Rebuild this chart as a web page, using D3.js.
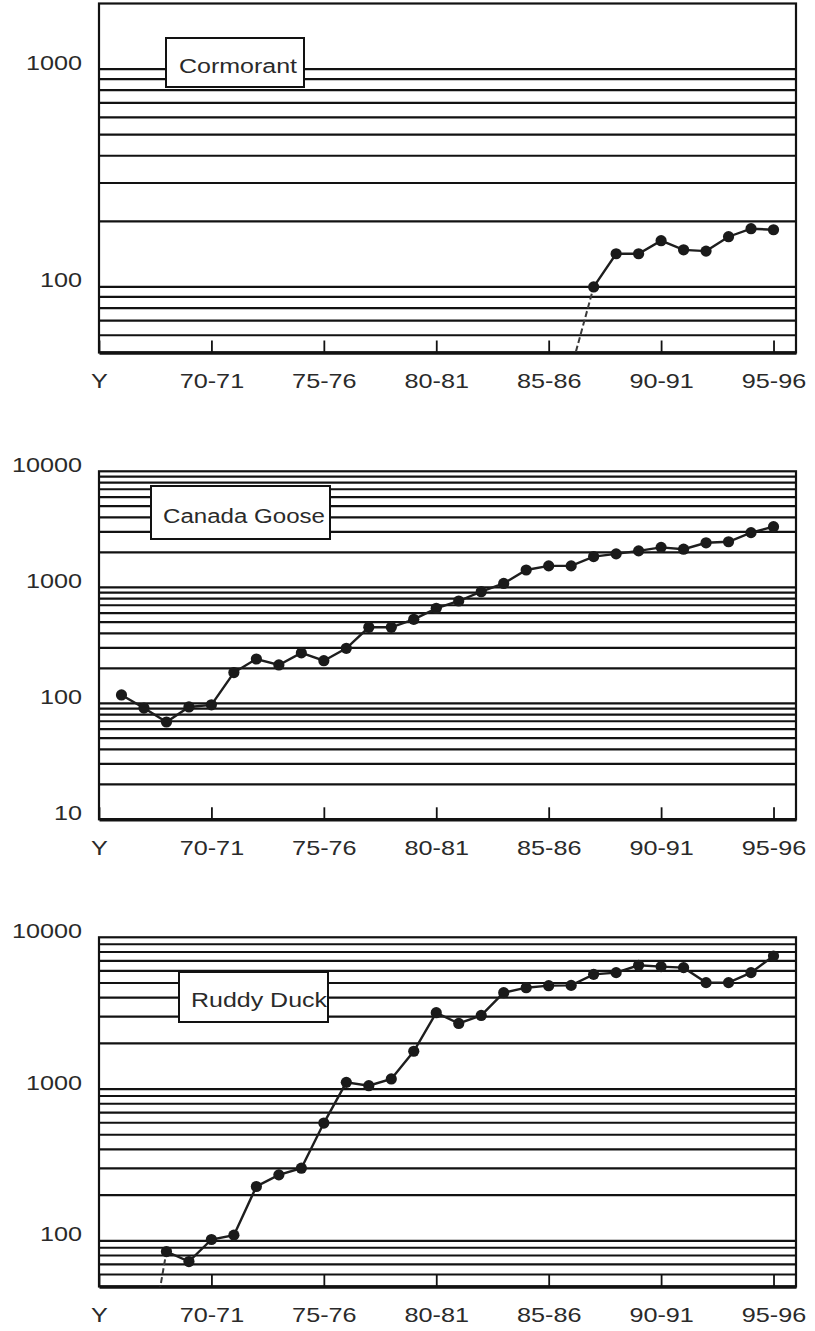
<!DOCTYPE html>
<html>
<head>
<meta charset="utf-8">
<script src="https://cdn.jsdelivr.net/npm/d3@7"></script>
<style>
  body { margin: 0; background: #fff; }
  svg text { font-family: "Liberation Sans", Arial, Helvetica, sans-serif; fill: #2a2a2a; }
</style>
</head>
<body>
<div id="chart"></div>
<script>
// Season ticks along the bottom (first season year of each label)
const seasonTicks = [1965, 1970, 1975, 1980, 1985, 1990, 1995];
const seasonLabels = ["Y", "70-71", "75-76", "80-81", "85-86", "90-91", "95-96"];

// Cormorant (first value is below the chart, joined with a dashed line)
const cormorantYears = [1986, 1987, 1988, 1989, 1990, 1991, 1992, 1993, 1994, 1995];
const cormorantCounts = [42, 100, 142, 142, 163, 148, 146, 170, 185, 183];

// Canada Goose
const gooseYears = [1966, 1967, 1968, 1969, 1970, 1971, 1972, 1973, 1974, 1975,
  1976, 1977, 1978, 1979, 1980, 1981, 1982, 1983, 1984, 1985,
  1986, 1987, 1988, 1989, 1990, 1991, 1992, 1993, 1994, 1995];
const gooseCounts = [118, 91, 69, 93, 97, 184, 241, 214, 272, 233,
  298, 452, 452, 530, 659, 762, 916, 1080, 1410, 1530,
  1530, 1840, 1940, 2060, 2210, 2130, 2420, 2470, 2960, 3330];

// Ruddy Duck (first value is below the chart, joined with a dashed line)
const duckYears = [1967, 1968, 1969, 1970, 1971, 1972, 1973, 1974, 1975,
  1976, 1977, 1978, 1979, 1980, 1981, 1982, 1983, 1984, 1985,
  1986, 1987, 1988, 1989, 1990, 1991, 1992, 1993, 1994, 1995];
const duckCounts = [12, 85, 73, 102, 109, 228, 272, 301, 597,
  1107, 1052, 1166, 1775, 3185, 2705, 3055, 4315, 4655, 4800,
  4820, 5700, 5850, 6540, 6410, 6310, 5030, 5030, 5850, 7530];

// Labelled values on the log axes
const cormorantAxisLabels = [100, 1000];
const gooseAxisLabels = [10, 100, 1000, 10000];
const duckAxisLabels = [100, 1000, 10000];

const config = {
  width: 815,
  height: 1331,
  left: 99,
  right: 796,
  xDomain: [1965, 1996],
  stretch: 1.2, // the scanned lettering is wider than Arial
};

const panels = [
  {
    name: "Cormorant", years: cormorantYears, counts: cormorantCounts,
    axisLabels: cormorantAxisLabels, domain: [50, 2000], top: 3.5, bottom: 352.5,
    dashedFirst: true, box: { x: 166, y: 38, w: 138, h: 49, tx: 179, ty: 73, tw: 118 },
  },
  {
    name: "Canada Goose", years: gooseYears, counts: gooseCounts,
    axisLabels: gooseAxisLabels, domain: [10, 10000], top: 471.3, bottom: 819.3,
    dashedFirst: false, box: { x: 151, y: 486, w: 179, h: 53, tx: 163, ty: 523, tw: 162 },
  },
  {
    name: "Ruddy Duck", years: duckYears, counts: duckCounts,
    axisLabels: duckAxisLabels, domain: [50, 10000], top: 937.3, bottom: 1286.5,
    dashedFirst: true, box: { x: 179, y: 972, w: 149, h: 50, tx: 191, ty: 1007, tw: 136 },
  },
];

const svg = d3.select("#chart")
  .append("svg")
  .attr("width", config.width)
  .attr("height", config.height);

const xScale = d3.scaleLinear()
  .domain(config.xDomain)
  .range([config.left, config.right]);

const ink = "#121212";

panels.forEach((p, idx) => {
  const g = svg.append("g").attr("class", "panel");

  const yScale = d3.scaleLog()
    .domain(p.domain)
    .range([p.bottom, p.top]);

  const clipId = `clip${idx}`;
  svg.append("clipPath").attr("id", clipId)
    .append("rect")
    .attr("x", config.left)
    .attr("y", p.top)
    .attr("width", config.right - config.left)
    .attr("height", p.bottom - p.top);

  // Horizontal log gridlines
  const gridValues = yScale.ticks().filter(v => v > p.domain[0] && v < p.domain[1]);
  g.append("g")
    .selectAll("line")
    .data(gridValues)
    .join("line")
    .attr("x1", config.left)
    .attr("x2", config.right)
    .attr("y1", d => yScale(d))
    .attr("y2", d => yScale(d))
    .attr("stroke", ink)
    .attr("stroke-width", 2.2);

  // Frame
  g.append("rect")
    .attr("x", config.left)
    .attr("y", p.top)
    .attr("width", config.right - config.left)
    .attr("height", p.bottom - p.top)
    .attr("fill", "none")
    .attr("stroke", ink)
    .attr("stroke-width", 2.2);

  // Bottom axis with short inward ticks
  const xAxis = g.append("g")
    .attr("transform", `translate(0, ${p.bottom})`)
    .call(
      d3.axisBottom(xScale)
        .tickValues(seasonTicks)
        .tickFormat((d, i) => seasonLabels[i])
        .tickSizeInner(-12)
        .tickSizeOuter(0)
        .tickPadding(21)
    );
  xAxis.select(".domain").attr("stroke", ink).attr("stroke-width", 3.5);
  xAxis.selectAll(".tick line").attr("stroke", ink).attr("stroke-width", 1.8);
  xAxis.selectAll(".tick text")
    .attr("class", "stretch")
    .attr("font-size", 21)
    .attr("fill", "#2a2a2a");

  // Left value labels
  const yAxis = g.append("g")
    .attr("transform", `translate(${config.left}, 0)`)
    .call(
      d3.axisLeft(yScale)
        .tickValues(p.axisLabels)
        .tickFormat(d3.format("d"))
        .tickSize(0)
        .tickPadding(17)
    );
  yAxis.select(".domain").remove();
  yAxis.selectAll(".tick text")
    .attr("class", "stretch")
    .attr("dy", "0")
    .attr("font-size", 21)
    .attr("fill", "#2a2a2a");

  // Series
  const points = p.years.map((yr, i) => ({ year: yr, count: p.counts[i] }));
  const solidPoints = p.dashedFirst ? points.slice(1) : points;
  const line = d3.line()
    .x(d => xScale(d.year))
    .y(d => yScale(d.count));

  const plot = g.append("g").attr("clip-path", `url(#${clipId})`);

  if (p.dashedFirst) {
    plot.append("path")
      .datum(points.slice(0, 2))
      .attr("d", line)
      .attr("fill", "none")
      .attr("stroke", "#3a3a3a")
      .attr("stroke-width", 2)
      .attr("stroke-dasharray", "6,3");
  }

  plot.append("path")
    .datum(solidPoints)
    .attr("d", line)
    .attr("fill", "none")
    .attr("stroke", "#1e1e1e")
    .attr("stroke-width", 2.4);

  plot.selectAll("circle")
    .data(solidPoints)
    .join("circle")
    .attr("cx", d => xScale(d.year))
    .attr("cy", d => yScale(d.count))
    .attr("r", 5.6)
    .attr("fill", "#1a1a1a");

  // Species label box
  g.append("rect")
    .attr("x", p.box.x)
    .attr("y", p.box.y)
    .attr("width", p.box.w)
    .attr("height", p.box.h)
    .attr("fill", "#fff")
    .attr("stroke", ink)
    .attr("stroke-width", 2);

  g.append("text")
    .attr("x", p.box.tx)
    .attr("y", p.box.ty)
    .attr("font-size", 20)
    .attr("textLength", p.box.tw)
    .attr("lengthAdjust", "spacingAndGlyphs")
    .attr("fill", "#333")
    .text(p.name);
});

// Widen the tick lettering to match the scanned original
svg.selectAll("text.stretch").each(function () {
  const len = this.getComputedTextLength();
  d3.select(this)
    .attr("textLength", len * config.stretch)
    .attr("lengthAdjust", "spacingAndGlyphs");
});
</script>
</body>
</html>
